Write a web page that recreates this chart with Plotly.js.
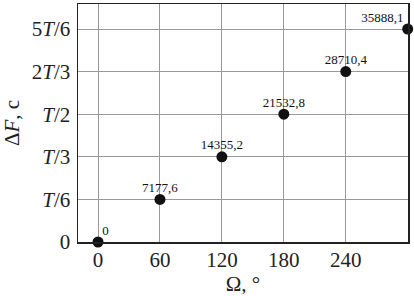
<!DOCTYPE html>
<html><head><meta charset="utf-8">
<script src="https://cdn.plot.ly/plotly-3.0.1.min.js"></script>
<style>body{margin:0;background:#fff}#c{width:414px;height:296px}</style>
</head><body><div id="c"></div>
<script>
const omega = [0, 60, 120, 180, 240, 300];
const deltaF = [0, 7177.6, 14355.2, 21532.8, 28710.4, 35888.1];
const pointLabels = ['0', '7177,6', '14355,2', '21532,8', '28710,4', '35888,1'];
const xTicks = [0, 60, 120, 180, 240];
const xTickLabels = ['0', '60', '120', '180', '240'];
const T = 43065.6;
const yTickFractions = [0, 1/6, 2/6, 3/6, 4/6, 5/6];
const yTickLabels = ['0', '<i>T</i>/6', '<i>T</i>/3', '<i>T</i>/2', '2<i>T</i>/3', '5<i>T</i>/6'];

const serif = 'Liberation Serif, Times New Roman, serif';
const points = {
  x: omega, y: deltaF,
  mode: 'markers', type: 'scatter',
  marker: {color: '#111', size: 11},
  cliponaxis: false, hoverinfo: 'none'
};
const labels = {
  x: omega, y: deltaF, text: pointLabels,
  mode: 'markers+text', type: 'scatter',
  marker: {size: 5, color: 'rgba(0,0,0,0)'},
  textposition: ['top right', 'top center', 'top center', 'top center', 'top center', 'top left'],
  textfont: {family: serif, size: 13, color: '#111'},
  cliponaxis: false, hoverinfo: 'none'
};
const layout = {
  width: 414, height: 296,
  margin: {l: 78, r: 6, t: 4, b: 54},
  paper_bgcolor: '#fff', plot_bgcolor: '#fff',
  showlegend: false,
  font: {family: serif, size: 21, color: '#222'},
  xaxis: {
    range: [-19.4, 300.3], tickvals: xTicks, ticktext: xTickLabels,
    showgrid: true, gridcolor: '#999', gridwidth: 1,
    showline: true, linecolor: '#222', linewidth: 1.5, mirror: true,
    zeroline: false, ticks: '', ticklabelstandoff: -2,
    title: {text: 'Ω, °', font: {family: serif, size: 21}, standoff: 6}
  },
  yaxis: {
    range: [0, 40100], tickvals: yTickFractions.map(f => f * T), ticktext: yTickLabels,
    showgrid: true, gridcolor: '#999', gridwidth: 1,
    showline: true, linecolor: '#222', linewidth: 1.5, mirror: true,
    zeroline: false, ticks: '', ticklabelstandoff: 2,
    title: {text: 'Δ<i>F</i>, c', font: {family: serif, size: 21}, standoff: 8}
  }
};
Plotly.newPlot('c', [points, labels], layout, {staticPlot: true, displayModeBar: false});
</script></body></html>
